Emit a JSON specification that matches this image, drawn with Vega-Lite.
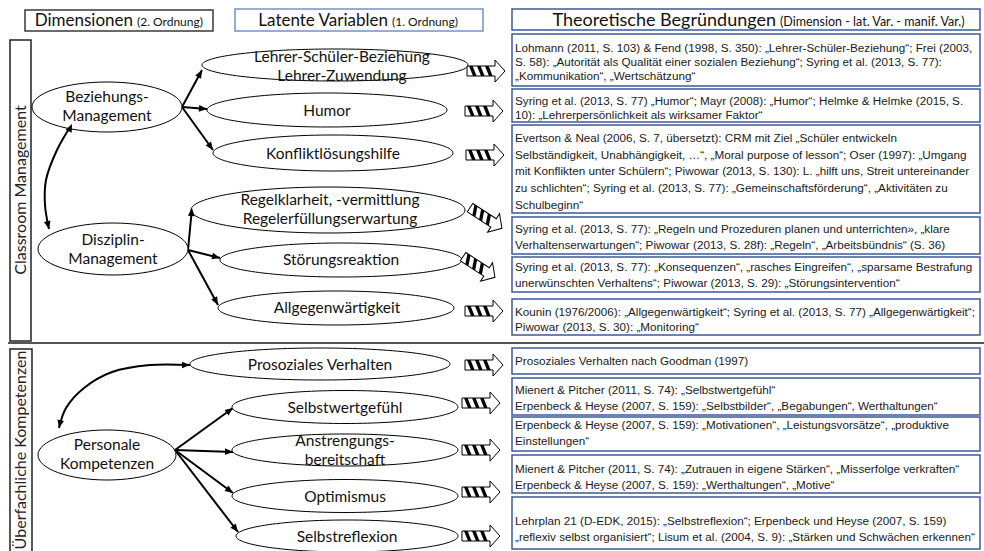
{
  "$schema": "https://vega.github.io/schema/vega-lite/v6.json",
  "width": 984,
  "height": 551,
  "padding": 0,
  "autosize": {"type": "none"},
  "background": "white",
  "config": {"view": {"stroke": null}},
  "datasets": {
    "boxes": [
      {"id": "h1", "kind": "dim", "x1": 25, "x2": 213, "y1": 10, "y2": 31},
      {"id": "h2", "kind": "lat", "x1": 235, "x2": 483, "y1": 9, "y2": 31},
      {"id": "h3", "kind": "theo", "x1": 512, "x2": 980, "y1": 9, "y2": 30},
      {"id": "s1", "kind": "side", "x1": 10, "x2": 31, "y1": 40, "y2": 341},
      {"id": "s2", "kind": "side", "x1": 10, "x2": 32, "y1": 349, "y2": 556},
      {"id": "r1", "kind": "ref", "x1": 512, "x2": 980, "y1": 34, "y2": 86},
      {"id": "r2", "kind": "ref", "x1": 512, "x2": 980, "y1": 89, "y2": 122},
      {"id": "r3", "kind": "ref", "x1": 512, "x2": 980, "y1": 125, "y2": 213},
      {"id": "r4", "kind": "ref", "x1": 512, "x2": 980, "y1": 217, "y2": 254},
      {"id": "r5", "kind": "ref", "x1": 512, "x2": 980, "y1": 257, "y2": 292},
      {"id": "r6", "kind": "ref", "x1": 512, "x2": 980, "y1": 299, "y2": 335},
      {"id": "r7", "kind": "ref", "x1": 512, "x2": 980, "y1": 348, "y2": 374},
      {"id": "r8", "kind": "ref", "x1": 512, "x2": 980, "y1": 378, "y2": 415},
      {"id": "r9", "kind": "ref", "x1": 512, "x2": 980, "y1": 417, "y2": 451},
      {"id": "r10", "kind": "ref", "x1": 512, "x2": 980, "y1": 455, "y2": 493},
      {"id": "r11", "kind": "ref", "x1": 512, "x2": 980, "y1": 497, "y2": 549}
    ],
    "separator": [{"x1": 8, "x2": 984, "y": 343}],
    "ellipses": [
      {"id": "bez", "x": 107, "y": 107},
      {"id": "dis", "x": 113, "y": 249},
      {"id": "per", "x": 107, "y": 455},
      {"id": "lsb", "x": 335, "y": 65},
      {"id": "hum", "x": 327, "y": 110},
      {"id": "kon", "x": 333, "y": 153},
      {"id": "reg", "x": 328, "y": 210},
      {"id": "sto", "x": 341, "y": 260},
      {"id": "all", "x": 336, "y": 308},
      {"id": "pro", "x": 320, "y": 364},
      {"id": "swg", "x": 345, "y": 407},
      {"id": "ans", "x": 345, "y": 450},
      {"id": "opt", "x": 345, "y": 496},
      {"id": "ref", "x": 347, "y": 536}
    ],
    "nodeText": [
      {"text": "Beziehungs-\nManagement", "x": 107, "y": 97},
      {"text": "Disziplin-\nManagement", "x": 113, "y": 240},
      {"text": "Personale\nKompetenzen", "x": 107, "y": 445},
      {"text": "Lehrer-Schüler-Beziehung\nLehrer-Zuwendung", "x": 342, "y": 57},
      {"text": "Humor", "x": 327, "y": 111},
      {"text": "Konfliktlösungshilfe", "x": 333, "y": 154},
      {"text": "Regelklarheit, -vermittlung\nRegelerfüllungserwartung", "x": 330, "y": 200},
      {"text": "Störungsreaktion", "x": 341, "y": 260},
      {"text": "Allgegenwärtigkeit", "x": 337, "y": 308},
      {"text": "Prosoziales Verhalten", "x": 320, "y": 365},
      {"text": "Selbstwertgefühl", "x": 345, "y": 408},
      {"text": "Anstrengungs-\nbereitschaft", "x": 345, "y": 441},
      {"text": "Optimismus", "x": 345, "y": 497},
      {"text": "Selbstreflexion", "x": 347, "y": 537}
    ],
    "headText": [
      {"main": "Dimensionen", "small": "(2. Ordnung)", "x": 135, "y": 26},
      {"main": "Latente Variablen", "small": "(1. Ordnung)", "x": 390, "y": 26}
    ],
    "headTextTheo": [
      {"main": "Theoretische Begründungen", "small": "(Dimension - lat. Var.  - manif. Var.)", "x": 778, "y": 26}
    ],
    "sideText": [
      {"text": "Classroom Management", "x": 21, "y": 190},
      {"text": "Überfachliche Kompetenzen", "x": 21, "y": 450}
    ],
    "refText": [
      {"text": "Lohmann (2011, S. 103) & Fend (1998, S. 350): „Lehrer-Schüler-Beziehung“; Frei (2003,", "x": 515, "y": 48},
      {"text": "S. 58): „Autorität als Qualität einer sozialen Beziehung“; Syring et al. (2013, S. 77):", "x": 515, "y": 62},
      {"text": "„Kommunikation“, „Wertschätzung“", "x": 515, "y": 76},
      {"text": "Syring et al. (2013, S. 77) „Humor“; Mayr (2008): „Humor“; Helmke & Helmke (2015, S.", "x": 515, "y": 101},
      {"text": "10): „Lehrerpersönlichkeit als wirksamer Faktor“", "x": 515, "y": 115},
      {"text": "Evertson & Neal (2006, S. 7, übersetzt): CRM mit Ziel „Schüler entwickeln", "x": 515, "y": 138},
      {"text": "Selbständigkeit, Unabhängigkeit, …“, „Moral purpose of lesson“; Oser (1997): „Umgang", "x": 515, "y": 155},
      {"text": "mit Konflikten unter Schülern“; Piwowar (2013, S. 130): L. „hilft uns, Streit untereinander", "x": 515, "y": 171},
      {"text": "zu schlichten“; Syring et al. (2013, S. 77): „Gemeinschaftsförderung“, „Aktivitäten zu", "x": 515, "y": 188},
      {"text": "Schulbeginn“", "x": 515, "y": 205},
      {"text": "Syring et al. (2013, S. 77): „Regeln und Prozeduren planen und unterrichten», „klare", "x": 515, "y": 229},
      {"text": "Verhaltenserwartungen“; Piwowar (2013, S. 28f): „Regeln“, „Arbeitsbündnis“ (S. 36)", "x": 515, "y": 245},
      {"text": "Syring et al. (2013, S. 77): „Konsequenzen“, „rasches Eingreifen“, „sparsame Bestrafung", "x": 515, "y": 267},
      {"text": "unerwünschten Verhaltens“; Piwowar (2013, S. 29): „Störungsintervention“", "x": 515, "y": 283},
      {"text": "Kounin (1976/2006): „Allgegenwärtigkeit“; Syring et al. (2013, S. 77) „Allgegenwärtigkeit“;", "x": 515, "y": 312},
      {"text": "Piwowar (2013, S. 30): „Monitoring“", "x": 515, "y": 327},
      {"text": "Prosoziales Verhalten nach Goodman (1997)", "x": 515, "y": 361},
      {"text": "Mienert & Pitcher (2011, S. 74): „Selbstwertgefühl“", "x": 515, "y": 390},
      {"text": "Erpenbeck & Heyse (2007, S. 159): „Selbstbilder“, „Begabungen“,  Werthaltungen“", "x": 515, "y": 406},
      {"text": "Erpenbeck & Heyse (2007, S. 159): „Motivationen“, „Leistungsvorsätze“, „produktive", "x": 515, "y": 425},
      {"text": "Einstellungen“", "x": 515, "y": 441},
      {"text": "Mienert & Pitcher (2011, S. 74): „Zutrauen in eigene Stärken“, „Misserfolge verkraften“", "x": 515, "y": 469},
      {"text": "Erpenbeck & Heyse (2007, S. 159): „Werthaltungen“, „Motive“", "x": 515, "y": 485},
      {"text": "Lehrplan 21 (D-EDK, 2015): „Selbstreflexion“; Erpenbeck und Heyse (2007, S. 159)", "x": 515, "y": 521},
      {"text": "„reflexiv selbst organisiert“; Lisum et al. (2004, S. 9): „Stärken und Schwächen erkennen“", "x": 515, "y": 537}
    ],
    "links": [
      {"x1": 182, "y1": 107, "x2": 202, "y2": 70, "line": true},
      {"x1": 182, "y1": 107, "x2": 207, "y2": 109, "line": true},
      {"x1": 182, "y1": 107, "x2": 213, "y2": 150, "line": true},
      {"x1": 188, "y1": 250, "x2": 192, "y2": 208, "line": true},
      {"x1": 188, "y1": 250, "x2": 220, "y2": 258, "line": true},
      {"x1": 188, "y1": 250, "x2": 218, "y2": 305, "line": true},
      {"x1": 175, "y1": 450, "x2": 233, "y2": 408, "line": true},
      {"x1": 175, "y1": 450, "x2": 233, "y2": 452, "line": true},
      {"x1": 175, "y1": 450, "x2": 233, "y2": 493, "line": true},
      {"x1": 175, "y1": 450, "x2": 238, "y2": 532, "line": true},
      {"x1": 66, "y1": 137, "x2": 72, "y2": 124, "line": false},
      {"x1": 46, "y1": 216, "x2": 49, "y2": 229, "line": false},
      {"x1": 62, "y1": 414, "x2": 59, "y2": 428, "line": false},
      {"x1": 177, "y1": 365, "x2": 190, "y2": 365, "line": false}
    ],
    "curves": [
      {"curve": "c1", "seq": 1, "x": 72, "y": 124},
      {"curve": "c1", "seq": 2, "x": 57, "y": 150},
      {"curve": "c1", "seq": 3, "x": 46, "y": 180},
      {"curve": "c1", "seq": 4, "x": 45, "y": 205},
      {"curve": "c1", "seq": 5, "x": 49, "y": 229},
      {"curve": "c2", "seq": 1, "x": 59, "y": 428},
      {"curve": "c2", "seq": 2, "x": 66, "y": 408},
      {"curve": "c2", "seq": 3, "x": 84, "y": 388},
      {"curve": "c2", "seq": 4, "x": 112, "y": 372},
      {"curve": "c2", "seq": 5, "x": 150, "y": 365},
      {"curve": "c2", "seq": 6, "x": 190, "y": 365}
    ],
    "blockArrows": [
      {"x": 486, "y": 71, "angle": 0},
      {"x": 484, "y": 111, "angle": 0},
      {"x": 485, "y": 155, "angle": 0},
      {"x": 486, "y": 218, "angle": 33},
      {"x": 479, "y": 267, "angle": 33},
      {"x": 484, "y": 311, "angle": 0},
      {"x": 484, "y": 365, "angle": 0},
      {"x": 481, "y": 403, "angle": 0},
      {"x": 481, "y": 450, "angle": 0},
      {"x": 481, "y": 492, "angle": 0},
      {"x": 481, "y": 536, "angle": 0}
    ]
  },
  "encoding": {
    "x": {"field": "x", "type": "quantitative", "scale": {"domain": [0, 984], "nice": false, "zero": false}, "axis": null},
    "y": {"field": "y", "type": "quantitative", "scale": {"domain": [0, 551], "nice": false, "zero": false, "reverse": true}, "axis": null}
  },
  "layer": [
    {
      "data": {"name": "boxes"},
      "mark": {"type": "rect", "fill": "white", "strokeWidth": 1.5},
      "encoding": {
        "x": {"field": "x1", "type": "quantitative"},
        "x2": {"field": "x2"},
        "y": {"field": "y1", "type": "quantitative"},
        "y2": {"field": "y2"},
        "stroke": {"field": "kind", "type": "nominal", "scale": {"domain": ["dim", "lat", "theo", "ref", "side"], "range": ["#3a3a3a", "#7391c9", "#3d5a98", "#3d5a98", "#222222"]}, "legend": null}
      }
    },
    {
      "data": {"name": "separator"},
      "mark": {"type": "rule", "stroke": "#555555", "strokeWidth": 2},
      "encoding": {
        "x": {"field": "x1", "type": "quantitative"},
        "x2": {"field": "x2"},
        "y": {"field": "y", "type": "quantitative"}
      }
    },
    {
      "data": {"name": "curves"},
      "mark": {"type": "line", "interpolate": "catmull-rom", "stroke": "black", "strokeWidth": 2},
      "encoding": {
        "detail": {"field": "curve", "type": "nominal"},
        "order": {"field": "seq", "type": "quantitative"}
      }
    },
    {
      "data": {"name": "links"},
      "transform": [{"filter": "datum.line"}],
      "mark": {"type": "rule", "stroke": "black", "strokeWidth": 2},
      "encoding": {
        "x": {"field": "x1", "type": "quantitative"},
        "y": {"field": "y1", "type": "quantitative"},
        "x2": {"field": "x2"},
        "y2": {"field": "y2"}
      }
    },
    {
      "data": {"name": "ellipses"},
      "mark": {"type": "point", "filled": true, "fill": "white", "stroke": "black", "strokeWidth": 1, "size": 90000, "opacity": 1},
      "encoding": {
        "shape": {
          "field": "id", "type": "nominal", "legend": null,
          "scale": {
            "domain": ["bez", "dis", "per", "lsb", "hum", "kon", "reg", "sto", "all", "pro", "swg", "ans", "opt", "ref"],
            "range": [
              "M -0.5 0 C -0.5 -0.0921 -0.2762 -0.1667 0 -0.1667 C 0.2762 -0.1667 0.5 -0.0921 0.5 0 C 0.5 0.0921 0.2762 0.1667 0 0.1667 C -0.2762 0.1667 -0.5 0.0921 -0.5 0 Z",
              "M -0.5 0 C -0.5 -0.0957 -0.2762 -0.1733 0 -0.1733 C 0.2762 -0.1733 0.5 -0.0957 0.5 0 C 0.5 0.0957 0.2762 0.1733 0 0.1733 C -0.2762 0.1733 -0.5 0.0957 -0.5 0 Z",
              "M -0.46 0 C -0.46 -0.0921 -0.2541 -0.1667 0 -0.1667 C 0.2541 -0.1667 0.46 -0.0921 0.46 0 C 0.46 0.0921 0.2541 0.1667 0 0.1667 C -0.2541 0.1667 -0.46 0.0921 -0.46 0 Z",
              "M -0.8867 0 C -0.8867 -0.0589 -0.4897 -0.1067 0 -0.1067 C 0.4897 -0.1067 0.8867 -0.0589 0.8867 0 C 0.8867 0.0589 0.4897 0.1067 0 0.1067 C -0.4897 0.1067 -0.8867 0.0589 -0.8867 0 Z",
              "M -0.8 0 C -0.8 -0.0626 -0.4418 -0.1133 0 -0.1133 C 0.4418 -0.1133 0.8 -0.0626 0.8 0 C 0.8 0.0626 0.4418 0.1133 0 0.1133 C -0.4418 0.1133 -0.8 0.0626 -0.8 0 Z",
              "M -0.8 0 C -0.8 -0.0663 -0.4418 -0.12 0 -0.12 C 0.4418 -0.12 0.8 -0.0663 0.8 0 C 0.8 0.0663 0.4418 0.12 0 0.12 C -0.4418 0.12 -0.8 0.0663 -0.8 0 Z",
              "M -0.9133 0 C -0.9133 -0.0847 -0.5044 -0.1533 0 -0.1533 C 0.5044 -0.1533 0.9133 -0.0847 0.9133 0 C 0.9133 0.0847 0.5044 0.1533 0 0.1533 C -0.5044 0.1533 -0.9133 0.0847 -0.9133 0 Z",
              "M -0.8067 0 C -0.8067 -0.0626 -0.4455 -0.1133 0 -0.1133 C 0.4455 -0.1133 0.8067 -0.0626 0.8067 0 C 0.8067 0.0626 0.4455 0.1133 0 0.1133 C -0.4455 0.1133 -0.8067 0.0626 -0.8067 0 Z",
              "M -0.7867 0 C -0.7867 -0.0626 -0.4345 -0.1133 0 -0.1133 C 0.4345 -0.1133 0.7867 -0.0626 0.7867 0 C 0.7867 0.0626 0.4345 0.1133 0 0.1133 C -0.4345 0.1133 -0.7867 0.0626 -0.7867 0 Z",
              "M -0.8667 0 C -0.8667 -0.0589 -0.4787 -0.1067 0 -0.1067 C 0.4787 -0.1067 0.8667 -0.0589 0.8667 0 C 0.8667 0.0589 0.4787 0.1067 0 0.1067 C -0.4787 0.1067 -0.8667 0.0589 -0.8667 0 Z",
              "M -0.7533 0 C -0.7533 -0.0608 -0.4161 -0.11 0 -0.11 C 0.4161 -0.11 0.7533 -0.0608 0.7533 0 C 0.7533 0.0608 0.4161 0.11 0 0.11 C -0.4161 0.11 -0.7533 0.0608 -0.7533 0 Z",
              "M -0.7533 0 C -0.7533 -0.0589 -0.4161 -0.1067 0 -0.1067 C 0.4161 -0.1067 0.7533 -0.0589 0.7533 0 C 0.7533 0.0589 0.4161 0.1067 0 0.1067 C -0.4161 0.1067 -0.7533 0.0589 -0.7533 0 Z",
              "M -0.7533 0 C -0.7533 -0.0608 -0.4161 -0.11 0 -0.11 C 0.4161 -0.11 0.7533 -0.0608 0.7533 0 C 0.7533 0.0608 0.4161 0.11 0 0.11 C -0.4161 0.11 -0.7533 0.0608 -0.7533 0 Z",
              "M -0.74 0 C -0.74 -0.0589 -0.4087 -0.1067 0 -0.1067 C 0.4087 -0.1067 0.74 -0.0589 0.74 0 C 0.74 0.0589 0.4087 0.1067 0 0.1067 C -0.4087 0.1067 -0.74 0.0589 -0.74 0 Z"
            ]
          }
        }
      }
    },
    {
      "data": {"name": "links"},
      "transform": [{"calculate": "atan2(datum.y2 - datum.y1, datum.x2 - datum.x1) * 180 / PI", "as": "dir"}],
      "mark": {"type": "point", "shape": "M 0 0 L -1 -0.42 L -1 0.42 Z", "size": 256, "filled": true, "fill": "black", "strokeWidth": 0, "opacity": 1},
      "encoding": {
        "x": {"field": "x2", "type": "quantitative"},
        "y": {"field": "y2", "type": "quantitative"},
        "angle": {"field": "dir", "type": "quantitative", "scale": null}
      }
    },
    {
      "data": {"name": "blockArrows"},
      "mark": {"type": "point", "shape": "M -0.95 -0.25 L 0.45 -0.25 L 0.45 -0.55 L 0.95 0 L 0.45 0.55 L 0.45 0.25 L -0.95 0.25 Z", "size": 1600, "filled": true, "fill": "white", "stroke": "black", "strokeWidth": 1, "opacity": 1},
      "encoding": {
        "angle": {"field": "angle", "type": "quantitative", "scale": null}
      }
    },
    {
      "data": {"name": "blockArrows"},
      "mark": {"type": "point", "shape": "M -0.85 -0.25 L -0.67 -0.25 L -0.47 0.25 L -0.65 0.25 Z M -0.45 -0.25 L -0.27 -0.25 L -0.07 0.25 L -0.25 0.25 Z M -0.05 -0.25 L 0.13 -0.25 L 0.33 0.25 L 0.15 0.25 Z", "size": 1600, "filled": true, "fill": "black", "strokeWidth": 0, "opacity": 1},
      "encoding": {
        "angle": {"field": "angle", "type": "quantitative", "scale": null}
      }
    },
    {
      "data": {"name": "nodeText"},
      "mark": {"type": "text", "font": "Lato", "fontSize": 15.5, "lineHeight": 19, "lineBreak": "\n", "align": "center", "baseline": "middle", "fill": "#111111"},
      "encoding": {"text": {"field": "text"}}
    },
    {
      "data": {"name": "headText"},
      "mark": {"type": "text", "font": "Lato", "fontSize": 17, "align": "right", "baseline": "alphabetic", "dx": -2, "fill": "#111111"},
      "encoding": {"text": {"field": "main"}}
    },
    {
      "data": {"name": "headText"},
      "mark": {"type": "text", "font": "Lato", "fontSize": 12, "align": "left", "baseline": "alphabetic", "dx": 2, "fill": "#111111"},
      "encoding": {"text": {"field": "small"}}
    },
    {
      "data": {"name": "headTextTheo"},
      "mark": {"type": "text", "font": "Lato", "fontSize": 18, "align": "right", "baseline": "alphabetic", "dx": -2, "fill": "#111111"},
      "encoding": {"text": {"field": "main"}}
    },
    {
      "data": {"name": "headTextTheo"},
      "mark": {"type": "text", "font": "Lato", "fontSize": 12.5, "align": "left", "baseline": "alphabetic", "dx": 2, "fill": "#111111"},
      "encoding": {"text": {"field": "small"}}
    },
    {
      "data": {"name": "sideText"},
      "mark": {"type": "text", "font": "Lato", "fontSize": 16, "angle": 270, "align": "center", "baseline": "middle", "fill": "#222222"},
      "encoding": {"text": {"field": "text"}}
    },
    {
      "data": {"name": "refText"},
      "mark": {"type": "text", "font": "Liberation Sans", "fontSize": 11.7, "align": "left", "baseline": "middle", "fill": "#1a1a1a"},
      "encoding": {"text": {"field": "text"}}
    }
  ]
}
